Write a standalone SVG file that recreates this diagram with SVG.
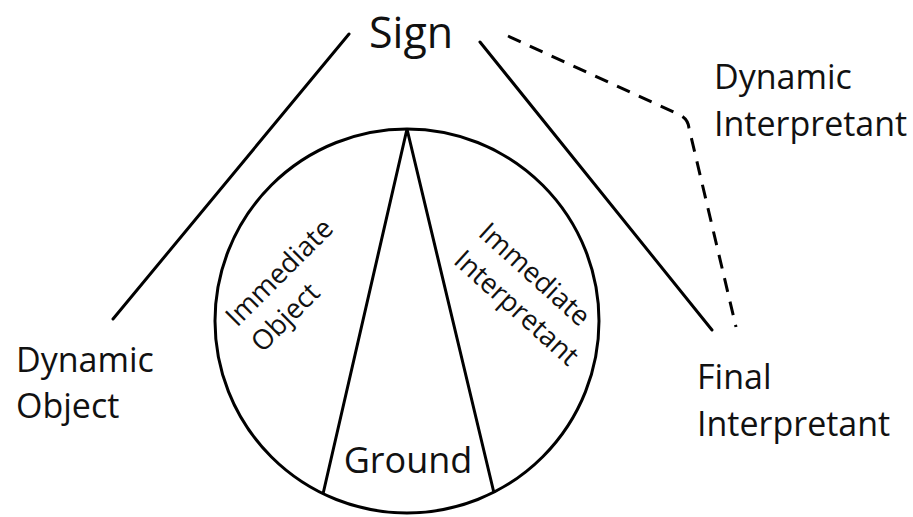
<svg xmlns="http://www.w3.org/2000/svg" width="913" height="517" viewBox="0 0 913 517">
<style>
.ln{fill:none;stroke:#000;stroke-width:3;stroke-linecap:round}
.dash{fill:none;stroke:#000;stroke-width:3;stroke-dasharray:14 10}
.lbl{font-family:"Open Sans","Liberation Sans",sans-serif;font-size:34px;fill:#111}
.in{font-family:"Open Sans","Liberation Sans",sans-serif;font-size:27.5px;fill:#111}
</style>
<rect width="913" height="517" fill="#fff"/>
<g id="connectors">
<line class="ln" x1="349" y1="34" x2="113" y2="319"/>
<line class="ln" x1="480" y1="42" x2="712" y2="330"/>
<path class="dash" d="M508,36 L680,115 Q688,119 689,128 L736,327"/>
</g>
<g id="sign"><text class="lbl" x="369" y="48" style="font-size:43px">Sign</text></g>
<g id="dynamic-object"><text class="lbl" x="16" y="372">Dynamic</text><text class="lbl" x="16" y="418">Object</text></g>
<g id="dynamic-interpretant"><text class="lbl" x="714" y="89">Dynamic</text><text class="lbl" x="714" y="136">Interpretant</text></g>
<g id="final-interpretant"><text class="lbl" x="697" y="389">Final</text><text class="lbl" x="697" y="436">Interpretant</text></g>
<g id="circle">
<circle cx="407" cy="321" r="192" fill="none" stroke="#000" stroke-width="3"/>
<polyline class="ln" points="323,494 407,129 494,493" style="stroke-linecap:butt"/>
</g>
<g id="immediate-object"><g transform="translate(237,328) rotate(-45)"><text class="in" x="0" y="0">Immediate</text><text class="in" x="0" y="36">Object</text></g></g>
<g id="immediate-interpretant"><g transform="translate(477,235) rotate(42)"><text class="in" x="0" y="0">Immediate</text><text class="in" x="0" y="37">Interpretant</text></g></g>
<g id="ground"><text class="lbl" x="408" y="473" text-anchor="middle" style="font-size:36px">Ground</text></g>
</svg>
